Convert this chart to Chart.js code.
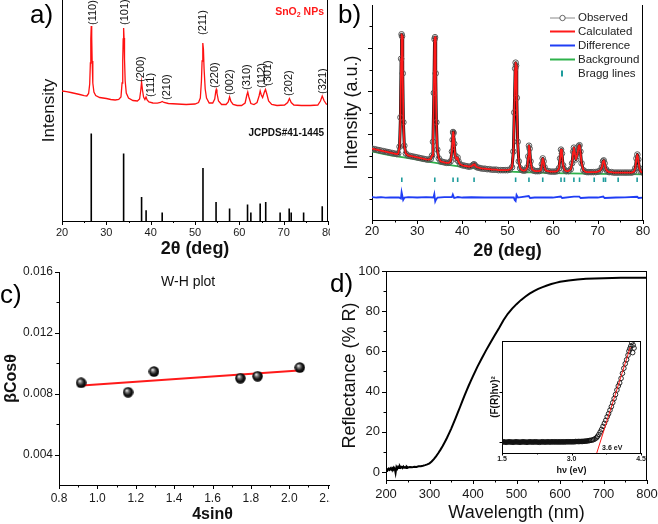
<!DOCTYPE html>
<html><head><meta charset="utf-8">
<script src="https://cdn.jsdelivr.net/npm/chart.js@4.4.1/dist/chart.umd.min.js"></script>
<style>
html,body{margin:0;padding:0;background:#fff;}
#wrap{position:relative;width:658px;height:524px;overflow:hidden;background:#fff;}
canvas{position:absolute;}
.clip{position:absolute;overflow:hidden;}
</style></head><body>
<div id="wrap">
<canvas id="ca" width="330" height="262" style="left:0;top:0;width:330px;height:262px"></canvas>
<canvas id="cb" width="328" height="262" style="left:330px;top:0;width:328px;height:262px"></canvas>
<div class="clip" style="left:0;top:250px;width:330px;height:274px"><canvas id="cc" width="372" height="274" style="left:0;top:0;width:372px;height:274px"></canvas></div>
<canvas id="cd" width="328" height="274" style="left:330px;top:250px;width:328px;height:274px"></canvas>
<canvas id="ce" width="162" height="146" style="left:485px;top:334px;width:162px;height:146px"></canvas>
</div>
<script>
// ---------------- DATA ----------------
// (a) XRD pattern of SnO2 NPs [2theta, intensity a.u.]
const xrdA = [[20,130],[21,129.3],[22,128.5],[23,127.5],[24,126.5],[25,125.3],[25.6,125],[26.0,127.5],[26.25,137],[26.4,158],[26.5,182],[26.6,195],[26.7,184],[26.8,160],[26.95,138],[27.2,129],[27.6,125.5],[28.5,123.5],[30,122.5],[31,121.5],[32,121],[32.8,121.5],[33.3,124],[33.55,138],[33.7,160],[33.8,182],[33.9,193],[34.0,183],[34.1,162],[34.25,140],[34.5,128],[35,123],[36,120.5],[37,120],[37.5,122],[37.75,130],[37.95,139],[38.15,131],[38.4,124],[38.7,121.5],[38.95,124],[39.2,121],[39.6,119],[40.5,118],[41.5,117.8],[42.2,118.5],[42.6,119.5],[43.0,118.5],[44,117.5],[46,117],[48,116.5],[50,117],[50.8,118.5],[51.2,123],[51.45,140],[51.6,160],[51.72,175],[51.8,178],[51.9,172],[52.05,152],[52.3,132],[52.6,123],[53.2,118],[54,118],[54.45,122],[54.7,130],[54.8,131.5],[54.95,128],[55.3,120],[56,116.5],[57,116.5],[57.5,119],[57.8,124],[58.1,119.5],[58.6,116.5],[59.5,115.5],[60.5,115.5],[61.3,118],[61.7,126],[61.9,129],[62.15,124],[62.6,117.5],[63.3,116.5],[64,118.5],[64.45,125],[64.7,130],[64.95,126],[65.25,123.5],[65.65,129],[65.9,131.5],[66.2,127],[66.6,120],[67.3,116.5],[68.5,115.5],[70.2,116],[70.9,118.5],[71.3,122.5],[71.7,118.5],[72.3,116],[74,115.5],[76,115.5],[77.7,116],[78.3,120],[78.7,125],[79.1,120.5],[79.6,117],[80,116.5]];
// JCPDS#41-1445 reference lines
const jcpdsPos = [26.6,33.9,37.95,38.97,42.6,51.8,54.75,57.8,61.85,62.6,64.7,65.95,69.2,71.25,71.7,74.5,78.7];
const jcpdsInt = [87.4,67.4,24,10.7,8.4,53,19,12.4,16.4,8.4,17.4,19,8.4,12.4,8.4,8.4,14.7];
// hkl labels and where they sit [2theta, intensity]
const hklText = ['(110)','(101)','(200)','(111)','(210)','(211)','(220)','(002)','(310)','(112)','(301)','(202)','(321)'];
const hklAt = [[27.08,196],[34.1,196],[37.87,139],[39.98,124],[43.6,121],[51.8,186],[54.57,133],[57.85,126],[61.76,131],[65.02,133],[66.52,135],[71.27,125],[78.82,127]];

// (b) Rietveld refinement [2theta, intensity]
const observedB = [[20,73],[20.5,72.5],[21,72],[21.5,71.5],[22,71],[22.5,70.5],[23,70],[23.5,69.5],[24,69],[24.5,68.5],[25,68],[25.5,67.5],[25.8,68],[26.1,75],[26.3,105],[26.45,165],[26.55,190],[26.65,188],[26.8,150],[26.95,100],[27.15,76],[27.5,68],[28,66],[28.5,65.5],[29,65],[29.5,64.5],[30,64],[30.5,63.5],[31,63],[31.5,62.5],[32,62],[32.5,61.8],[33,62.5],[33.3,66],[33.5,80],[33.7,130],[33.85,185],[33.95,187],[34.1,150],[34.25,100],[34.45,72],[34.8,63],[35.2,60],[35.6,59.5],[36,59],[36.5,58.5],[37,58.5],[37.4,60],[37.7,70],[37.85,82],[37.95,90],[38.05,89],[38.2,78],[38.4,66],[38.7,62],[38.95,64],[39.15,60],[39.5,57],[40,56],[40.5,55.5],[41,55],[41.5,54.5],[42,55],[42.4,56.5],[42.6,57],[42.8,56],[43.2,54],[43.6,53.5],[44,53],[44.5,52.5],[45,52.5],[45.5,52],[46,52],[46.5,51.5],[47,51.5],[47.5,51.5],[48,51],[48.5,51],[49,51],[49.5,51],[50,51],[50.5,51.5],[51,54],[51.3,70],[51.5,110],[51.7,155],[51.8,161],[51.9,158],[52.05,125],[52.25,80],[52.5,60],[52.8,53],[53.2,51],[53.6,50.5],[54,51],[54.4,54],[54.6,65],[54.75,76],[54.9,73],[55.1,60],[55.4,52],[55.8,50.5],[56.2,50],[56.6,50],[57,50],[57.4,51],[57.6,57],[57.8,63],[58,60],[58.2,54],[58.5,50.5],[59,50],[59.5,49.5],[60,49.5],[60.5,49.5],[61,50],[61.4,53],[61.65,63],[61.85,72],[62.05,68],[62.3,56],[62.6,51.5],[63,50],[63.5,50],[64,52],[64.3,58],[64.55,70],[64.7,74],[64.85,70],[65.15,62],[65.5,68],[65.75,75.5],[65.95,76.5],[66.15,70],[66.4,58],[66.8,51],[67.2,49.5],[67.6,49],[68,49],[68.5,49],[69,49],[69.5,49],[70,49.5],[70.5,50.5],[70.9,54],[71.15,60],[71.3,61],[71.5,58],[71.8,52],[72.1,50],[72.5,49],[73,49],[73.5,48.5],[74,48.5],[74.5,48.5],[75,48.5],[75.5,48.5],[76,48.5],[76.5,48.5],[77,48.5],[77.5,48.5],[78,49.5],[78.3,53],[78.55,63],[78.75,67],[78.95,62],[79.2,53],[79.5,49.5],[80,48.5]];
const calculatedB = observedB;
const differenceB = [[20,23.5],[21,23],[22,23.3],[23,22.8],[24,23.2],[25,23],[26,23.1],[26.4,22],[26.55,28.5],[26.75,24],[26.9,20.5],[27.2,23],[28,23.5],[30,23],[32,23.4],[33.6,23],[33.8,26.5],[34.0,19],[34.2,21],[34.5,23],[36,23.4],[37.7,23.4],[37.9,26],[38.2,22.5],[39,23.5],[40,23],[42,23.3],[45,23],[48,23.2],[50,23],[51.4,23],[51.6,20.5],[51.8,19.5],[52,25.5],[52.3,23],[54.7,24.5],[55,22.5],[56,23],[58,23.2],[60,23],[61.8,24],[62.1,22.5],[64.7,24],[65.9,24],[66.2,22.5],[68,23],[70,23],[71.2,24],[71.5,22.5],[74,23],[76,23.2],[78.7,23.8],[79,22.5],[80,23]];
const backgroundB = [[20,70],[25,65.5],[30,61.7],[35,57.7],[40,54.3],[45,51.7],[50,49.7],[55,48.7],[60,48],[70,47.3],[80,46.7]];
const braggPos = jcpdsPos;
const braggSpan = [39, 43.5];
const legendB = ['Observed','Calculated','Difference','Background','Bragg lines'];

// (c) Williamson-Hall plot
const whX = [0.915,1.16,1.295,1.745,1.835,2.055];
const whY = [0.00872,0.0081,0.00946,0.00902,0.00915,0.00972];
const whFit = [[0.92,0.00854],[2.05,0.00952]];

// (d) diffuse reflectance [nm, %R]
const reflD = [[200,0.5],[202,1.4],[204,0.9],[206,1.6],[208,1.1],[210,1.8],[212,1.2],[214,2.0],[216,1.5],[218,2.3],[220,1.7],[222,-0.5],[224,2.4],[226,1.6],[228,2.6],[230,2.0],[232,2.8],[234,2.1],[236,2.5],[238,2.0],[240,2.7],[242,2.1],[244,2.4],[246,2.0],[248,2.6],[250,2.2],[255,2.5],[260,2.3],[265,2.6],[270,2.5],[275,2.8],[280,2.9],[285,3.1],[290,3.4],[295,3.8],[300,4.3],[305,5.2],[310,6.4],[315,7.8],[320,9.3],[325,11.0],[330,12.8],[335,14.8],[340,16.9],[345,19.2],[350,21.6],[355,24.2],[360,26.8],[365,29.5],[370,32.2],[375,35.0],[380,37.7],[385,40.3],[390,42.9],[395,45.3],[400,47.7],[410,52.3],[420,56.5],[430,60.5],[440,64.3],[450,68.0],[460,71.6],[470,75.5],[480,78.7],[490,81.3],[500,83.5],[510,85.5],[520,87.2],[530,88.7],[540,90.0],[550,91.1],[560,92.0],[570,92.8],[580,93.5],[590,94.1],[600,94.6],[620,95.3],[640,95.8],[660,96.1],[680,96.3],[700,96.4],[720,96.5],[740,96.6],[760,96.6],[780,96.7],[800,96.7]];
// inset Tauc plot [eV, (F(R)hv)^2 a.u.] : flat part and absorption edge
const taucFlat = [[1.50,0],[1.53,0.005],[1.56,0],[1.59,-0.005],[1.62,0],[1.65,0.005],[1.68,0],[1.71,0],[1.74,-0.005],[1.77,0],[1.80,0.005],[1.83,0],[1.86,0],[1.89,-0.005],[1.92,0],[1.95,0.005],[1.98,0],[2.01,0],[2.04,-0.005],[2.07,0],[2.10,0.005],[2.13,0],[2.16,0],[2.19,0],[2.22,0.005],[2.25,0],[2.28,0],[2.31,-0.005],[2.34,0],[2.37,0.005],[2.40,0],[2.43,0],[2.46,0],[2.49,0.005],[2.52,0],[2.55,0],[2.58,0.005],[2.61,0],[2.64,0.005],[2.67,0],[2.70,0.005],[2.73,0],[2.76,0.005],[2.79,0],[2.82,0.005],[2.85,0],[2.88,0.005],[2.91,0.005],[2.94,0.005],[2.97,0.005],[3.00,0.005],[3.03,0.005],[3.06,0.005],[3.09,0.01],[3.12,0.01],[3.15,0.01],[3.18,0.01],[3.21,0.012],[3.24,0.012],[3.27,0.015],[3.30,0.017],[3.33,0.02],[3.36,0.025],[3.39,0.03]];
const taucRise = [[3.42,0.035],[3.45,0.04],[3.48,0.05],[3.51,0.065],[3.54,0.085],[3.56,0.11],[3.59,0.15],[3.62,0.2],[3.65,0.25],[3.68,0.31],[3.71,0.37],[3.74,0.43],[3.77,0.5],[3.80,0.56],[3.83,0.63],[3.86,0.7],[3.89,0.78],[3.92,0.86],[3.95,0.94],[3.98,1.03],[4.01,1.11],[4.04,1.17],[4.07,1.26],[4.10,1.36],[4.13,1.46],[4.16,1.55],[4.19,1.63],[4.22,1.72],[4.24,1.80],[4.26,1.85],[4.28,1.90],[4.30,1.97],[4.33,1.92],[4.35,1.86],[4.32,1.77]];
const taucFit = [[3.545,-0.217],[4.27,1.88]];
const bandGapText = '3.6 eV';

// tick values
const ticksA_x = [20,30,40,50,60,70,80], minorA_x = [25,35,45,55,65,75];
const ticksB_y = [44,88,132,176], minorB_y = [22,66,110,154,198];
const ticksC_x = [0.8,1.0,1.2,1.4,1.6,1.8,2.0,2.2,2.4], minorC_x = [0.9,1.1,1.3,1.5,1.7,1.9,2.1,2.3];
const ticksC_y = [0.004,0.008,0.012,0.016], minorC_y = [0.006,0.010,0.014];
const ticksD_x = [200,300,400,500,600,700,800], minorD_x = [250,350,450,550,650,750];
const ticksD_y = [0,20,40,60,80,100], minorD_y = [10,30,50,70,90];
const ticksE_x = [1.5,3.0,4.5], minorE_x = [2.25,3.75], ticksE_y = [0,1];

// ---------------- HELPERS ----------------
const FONT = '"Liberation Sans", Arial, Helvetica, sans-serif';
Chart.defaults.font.family = FONT;
Chart.defaults.color = '#111';
const pts = a => a.map(p => ({x:p[0], y:p[1]}));

function axis(o){
  return {
    type:'linear', min:o.min, max:o.max, position:o.pos,
    afterBuildTicks: s => { s.ticks = (o.ticks||[]).map(v => ({value:v})); },
    afterFit: s => { if (o.pos === 'bottom') s.height = o.size; else s.width = o.size;
      s.paddingLeft = 0; s.paddingRight = 0; s.paddingTop = 0; s.paddingBottom = 0; },
    grid:{display:false, drawTicks:false, tickLength:0},
    border:{display:true, color:'#000', width:1},
    ticks:{display:o.labels !== false, autoSkip:false, maxRotation:0, minRotation:0,
      padding:o.tpad||0, color:'#1a1a1a',
      font:{size:o.fs||12, family:FONT, weight:o.fw||'normal'},
      callback: v => o.fmt ? o.fmt(v) : String(v)},
    title:{display:!!o.title, text:o.title||'', color:'#111', padding:o.tp||0,
      font:{size:o.tfs||14, family:FONT, weight:o.tfw||'normal'}}
  };
}
function drawTicks(chart, ax, vals, len){
  const ctx = chart.ctx, a = chart.chartArea, s = chart.scales[ax];
  ctx.beginPath();
  vals.forEach(v => {
    const p = Math.round(s.getPixelForValue(v)) + 0.5;
    if (ax === 'x') { ctx.moveTo(p, a.bottom); ctx.lineTo(p, a.bottom + len); }
    else { ctx.moveTo(a.left, p); ctx.lineTo(a.left - len, p); }
  });
  ctx.stroke();
}
function deco(fn){
  return { id:'deco', afterDraw(chart){ const ctx = chart.ctx; ctx.save();
    ctx.strokeStyle = '#000'; ctx.fillStyle = '#000'; ctx.lineWidth = 1; fn(chart, ctx, chart.chartArea); ctx.restore(); } };
}
function frame(ctx, a, top, right){
  ctx.beginPath();
  if (top) { ctx.moveTo(a.left, a.top + 0.5); ctx.lineTo(a.right, a.top + 0.5); }
  if (right) { ctx.moveTo(a.right - 0.5, a.top); ctx.lineTo(a.right - 0.5, a.bottom); }
  ctx.stroke();
}
function panelLabel(ctx, t, x, y){
  ctx.font = '26px ' + FONT; ctx.fillStyle = '#000'; ctx.textAlign = 'left'; ctx.textBaseline = 'middle';
  ctx.fillText(t, x, y);
}
const base = (layoutPad) => ({ responsive:false, animation:false, devicePixelRatio:1, events:[],
  layout:{padding:layoutPad}, plugins:{legend:{display:false}, tooltip:{enabled:false}} });

// ---------------- (a) ----------------
const sticks = [];
jcpdsPos.forEach((p,i) => { sticks.push({x:p,y:0},{x:p,y:jcpdsInt[i]},{x:p,y:null}); });
new Chart(document.getElementById('ca'), {
  type:'scatter',
  data:{datasets:[
    {data:pts(xrdA), showLine:true, borderColor:'#ff1010', borderWidth:1.3, pointRadius:0, tension:0},
    {data:sticks, showLine:true, spanGaps:false, borderColor:'#000', borderWidth:1.6, pointRadius:0}
  ]},
  options:Object.assign(base({left:0,right:2,top:0,bottom:0}), {
    scales:{
      x:axis({min:20,max:80,pos:'bottom',size:41,ticks:ticksA_x,fs:11,tpad:5,title:'2θ (deg)',tfs:18,tfw:'bold',tp:{top:0,bottom:2}}),
      y:axis({min:0,max:221,pos:'left',size:62,ticks:[],labels:false,title:'Intensity',tfs:17,tp:{top:39,bottom:0}})
    }
  }),
  plugins:[deco((c,ctx,a) => {
    frame(ctx,a,false,true);
    drawTicks(c,'x',ticksA_x,4); drawTicks(c,'x',minorA_x,2);
    const sx = c.scales.x, sy = c.scales.y;
    ctx.font = '11px ' + FONT; ctx.fillStyle = '#111';
    hklText.forEach((t,i) => {
      ctx.save(); ctx.translate(sx.getPixelForValue(hklAt[i][0]), sy.getPixelForValue(hklAt[i][1]));
      ctx.rotate(-Math.PI/2); ctx.textAlign='left'; ctx.textBaseline='middle'; ctx.fillText(t,0,0); ctx.restore();
    });
    // SnO2 NPs
    const rx = sx.getPixelForValue(79.1), ry = sy.getPixelForValue(208.5);
    ctx.fillStyle = '#ff1a1a'; ctx.textBaseline = 'middle'; ctx.textAlign = 'left';
    const f1 = 'bold 10.5px ' + FONT, f2 = 'bold 7px ' + FONT;
    ctx.font = f1; const w1 = ctx.measureText('SnO').width, w3 = ctx.measureText(' NPs').width;
    ctx.font = f2; const w2 = ctx.measureText('2').width;
    let x0 = rx - (w1 + w2 + w3);
    ctx.font = f1; ctx.fillText('SnO', x0, ry);
    ctx.font = f2; ctx.fillText('2', x0 + w1, ry + 3);
    ctx.font = f1; ctx.fillText(' NPs', x0 + w1 + w2, ry);
    ctx.fillStyle = '#111'; ctx.font = 'bold 10px ' + FONT; ctx.textAlign = 'right';
    ctx.fillText('JCPDS#41-1445', rx, sy.getPixelForValue(87.5));
    panelLabel(ctx,'a)',30,15.5);
  })]
});

// ---------------- (b) ----------------
const braggData = [];
braggPos.forEach(p => { braggData.push({x:p,y:braggSpan[0]},{x:p,y:braggSpan[1]},{x:p,y:null}); });
const colB = {obsLine:'#8a8a8a', obsPt:'#555', calc:'#ff1a1a', diff:'#1f3df5', bg:'#2fb24c', bragg:'#1e9c9c'};
new Chart(document.getElementById('cb'), {
  type:'scatter',
  data:{datasets:[
    {data:pts(backgroundB), showLine:true, borderColor:colB.bg, borderWidth:1.8, pointRadius:0, cubicInterpolationMode:'monotone', order:4},
    {data:pts(observedB), showLine:true, borderColor:'#111', borderWidth:3, borderJoinStyle:'round', borderCapStyle:'round', pointRadius:2.8, pointBorderColor:colB.obsPt, pointBorderWidth:1, pointBackgroundColor:'rgba(255,255,255,0)', order:3},
    {data:pts(calculatedB), showLine:true, borderColor:colB.calc, borderWidth:1.8, borderJoinStyle:'round', pointRadius:0, order:1},
    {data:pts(differenceB), showLine:true, borderColor:colB.diff, borderWidth:1.8, pointRadius:0, order:1},
    {data:braggData, showLine:true, spanGaps:false, borderColor:colB.bragg, borderWidth:1.6, pointRadius:0, order:0}
  ]},
  options:Object.assign(base({left:0,right:15,top:0,bottom:0}), {
    scales:{
      x:axis({min:20,max:80,pos:'bottom',size:42,ticks:ticksA_x,fs:13,tpad:4,title:'2θ (deg)',tfs:18,tfw:'bold',tp:{top:0,bottom:0}}),
      y:axis({min:0,max:220,pos:'left',size:42,ticks:ticksB_y,labels:false,title:'Intensity (a.u.)',tfs:18,tp:{top:11,bottom:0}})
    }
  }),
  plugins:[deco((c,ctx,a) => {
    frame(ctx,a,false,true);
    drawTicks(c,'x',ticksA_x,4); drawTicks(c,'x',minorA_x,2.5);
    drawTicks(c,'y',ticksB_y,4); drawTicks(c,'y',minorB_y,2.5);
    const lx0 = a.left + 178, lx1 = a.left + 203, tx = a.left + 206;
    const rows = [13, 26.5, 40.5, 54.5, 68.5];
    ctx.font = '11.5px ' + FONT; ctx.textAlign = 'left'; ctx.textBaseline = 'middle';
    const cols = [colB.obsLine, colB.calc, colB.diff, colB.bg];
    rows.forEach((y,i) => {
      if (i < 4) {
        ctx.strokeStyle = cols[i]; ctx.lineWidth = i === 0 ? 1 : 2;
        ctx.beginPath(); ctx.moveTo(lx0, y + a.top); ctx.lineTo(lx1, y + a.top); ctx.stroke();
        if (i === 0) { ctx.fillStyle = '#fff'; ctx.strokeStyle = '#555'; ctx.lineWidth = 0.9;
          ctx.beginPath(); ctx.arc((lx0+lx1)/2, y + a.top, 2.7, 0, Math.PI*2); ctx.fill(); ctx.stroke(); }
      } else {
        ctx.strokeStyle = colB.bragg; ctx.lineWidth = 2;
        ctx.beginPath(); ctx.moveTo(a.left + 190, y + a.top - 3); ctx.lineTo(a.left + 190, y + a.top + 3); ctx.stroke();
      }
      ctx.fillStyle = '#222'; ctx.fillText(legendB[i], tx, y + a.top);
    });
    panelLabel(ctx,'b)',8,16);
  })]
});

// ---------------- (c) ----------------
// shaded ball marker image
const ball = document.createElement('canvas');
ball.width = 11; ball.height = 11;
(function(){ const g2 = ball.getContext('2d');
  const g = g2.createRadialGradient(4, 3.6, 0.2, 5.5, 5.5, 5.5);
  g.addColorStop(0, '#f4f4f4'); g.addColorStop(0.28, '#7a7a7a'); g.addColorStop(0.62, '#161616'); g.addColorStop(1, '#000');
  g2.fillStyle = g; g2.beginPath(); g2.arc(5.5, 5.5, 5.2, 0, Math.PI*2); g2.fill(); })();
new Chart(document.getElementById('cc'), {
  type:'scatter',
  data:{datasets:[
    {data:pts(whFit), showLine:true, borderColor:'#ff1a1a', borderWidth:2, pointRadius:0, order:2},
    {data:whX.map((x,i) => ({x, y:whY[i]})), pointStyle:ball, pointRadius:5, order:1}
  ]},
  options:Object.assign(base({left:0,right:4,top:22,bottom:0}), {
    scales:{
      x:axis({min:0.8,max:2.4,pos:'bottom',size:39,ticks:ticksC_x,fs:12,tpad:6,fmt:v=>v.toFixed(1),title:'4sinθ',tfs:16,tfw:'bold',tp:{top:0,bottom:0}}),
      y:axis({min:0.002,max:0.016,pos:'left',size:59,ticks:ticksC_y,fs:12,tpad:6,fmt:v=>v.toFixed(3),title:'βCosθ',tfs:16,tfw:'bold',tp:{top:2,bottom:0}})
    }
  }),
  plugins:[deco((c,ctx,a) => {
    drawTicks(c,'x',ticksC_x,4); drawTicks(c,'x',minorC_x,2.5);
    drawTicks(c,'y',ticksC_y,4); drawTicks(c,'y',minorC_y,2.5);
    ctx.font = '14px ' + FONT; ctx.fillStyle = '#111'; ctx.textAlign = 'center'; ctx.textBaseline = 'middle';
    ctx.fillText('W-H plot', c.scales.x.getPixelForValue(1.473), c.scales.y.getPixelForValue(0.01535));
    panelLabel(ctx,'c)',0,46);
  })]
});

// ---------------- (d) ----------------
new Chart(document.getElementById('cd'), {
  type:'scatter',
  data:{datasets:[
    {data:pts(reflD), showLine:true, borderColor:'#000', borderWidth:2, pointRadius:0}
  ]},
  options:Object.assign(base({left:0,right:11,top:21,bottom:0}), {
    scales:{
      x:axis({min:200,max:800,pos:'bottom',size:44,ticks:ticksD_x,fs:13,tpad:7,title:'Wavelength (nm)',tfs:18,tp:{top:0,bottom:0}}),
      y:axis({min:-4,max:100,pos:'left',size:56,ticks:ticksD_y,fs:13,tpad:6,title:'Reflectance (% R)',tfs:18,tp:{top:9,bottom:0}})
    }
  }),
  plugins:[deco((c,ctx,a) => {
    frame(ctx,a,true,true);
    drawTicks(c,'x',ticksD_x,4); drawTicks(c,'x',minorD_x,2.5);
    drawTicks(c,'y',ticksD_y,4); drawTicks(c,'y',minorD_y,2.5);
    panelLabel(ctx,'d)',0,35);
  })]
});

// ---------------- (d) inset ----------------
new Chart(document.getElementById('ce'), {
  type:'scatter',
  data:{datasets:[
    {data:pts(taucFit), showLine:true, borderColor:'#ff1a1a', borderWidth:1, pointRadius:0, order:0},
    {data:pts(taucFlat), showLine:true, borderColor:'#111', borderWidth:3.5, pointRadius:2.3, pointBorderWidth:1, pointBorderColor:'#111', pointBackgroundColor:'rgba(255,255,255,0)', order:2},
    {data:pts(taucRise), pointRadius:2.3, pointBorderWidth:0.9, pointBorderColor:'#111', pointBackgroundColor:'rgba(255,255,255,0)', order:1}
  ]},
  options:Object.assign(base({left:0,right:6,top:7,bottom:0}), {
    scales:{
      x:axis({min:1.5,max:4.5,pos:'bottom',size:27,ticks:ticksE_x,fs:7,fw:'bold',tpad:2,fmt:v=>v.toFixed(1),title:'hν (eV)',tfs:9,tfw:'bold',tp:{top:0,bottom:4.5}}),
      y:axis({min:-0.217,max:2.0,pos:'left',size:17,ticks:ticksE_y,labels:false,title:'(F(R)hν)²',tfs:10,tfw:'bold',tp:{top:4.5,bottom:0}})
    }
  }),
  plugins:[deco((c,ctx,a) => {
    frame(ctx,a,true,true);
    drawTicks(c,'x',ticksE_x,2.5); drawTicks(c,'x',minorE_x,1.5);
    drawTicks(c,'y',ticksE_y,2.5);
    ctx.font = 'bold 7px ' + FONT; ctx.fillStyle = '#111'; ctx.textAlign = 'left'; ctx.textBaseline = 'middle';
    ctx.fillText(bandGapText, c.scales.x.getPixelForValue(3.66), c.scales.y.getPixelForValue(-0.11));
  })]
});
</script>
</body></html>
